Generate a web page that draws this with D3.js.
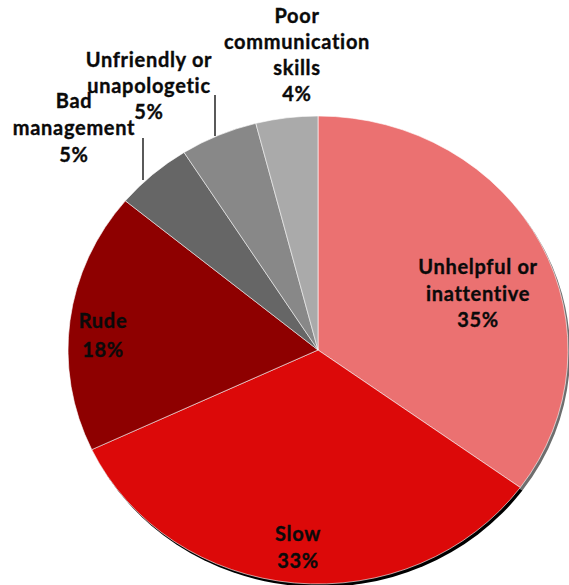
<!DOCTYPE html>
<html>
<head>
<meta charset="utf-8">
<script src="https://cdn.jsdelivr.net/npm/d3@7/dist/d3.min.js"></script>
<style>
  html, body { margin: 0; padding: 0; background: #fff; }
  svg { display: block; }
  text { font-family: Lato, "Open Sans", sans-serif; font-weight: 700; fill: #0a0a0a; }
</style>
</head>
<body>
<svg id="chart" width="569" height="585"></svg>
<script>
// Complaint categories, clockwise from 12 o'clock
const categories = [
  "Unhelpful or inattentive",
  "Slow",
  "Rude",
  "Bad management",
  "Unfriendly or unapologetic",
  "Poor communication skills"
];
const values = [35, 33, 18, 5, 5, 4];
const labelLines = [
  ["Unhelpful or", "inattentive"],
  ["Slow"],
  ["Rude"],
  ["Bad", "management"],
  ["Unfriendly or", "unapologetic"],
  ["Poor", "communication", "skills"]
];
const colors = ["#eb7171", "#dc0909", "#8e0000", "#666666", "#888888", "#aaaaaa"];
const shadowColors = ["#6e6e6e", "#000000", "#3a0000", "#333", "#444", "#555"];

// Geometry of the (slightly widened) pie
const cx = 318, cy = 350, ry = 234, rx = 250;

// Label placement: centre x, first baseline, line height
const labelPos = [
  { x: 478, y: 274, lh: 26.5 },
  { x: 298, y: 541, lh: 27 },
  { x: 103, y: 328, lh: 29 },
  { x: 74,  y: 108, lh: 27 },
  { x: 149, y: 67,  lh: 26 },
  { x: 297, y: 23,  lh: 26 }
];
// Leader lines for the two small outside-labelled slices
const leaders = [
  { i: 3, x: 143, y1: 138, y2: 180 },
  { i: 4, x: 215, y1: 95,  y2: 136 }
];

const svg = d3.select("#chart");
const pie = d3.pie().sort(null).value(d => d)(values);
const arc = d3.arc().innerRadius(0).outerRadius(ry);

const pieG = svg.append("g")
  .attr("transform", `translate(${cx},${cy}) scale(${rx / ry},1)`);

// Soft edge shadow toward the lower right
pieG.append("g")
  .attr("transform", "translate(2,3)")
  .selectAll("path")
  .data(pie)
  .join("path")
  .attr("d", arc)
  .attr("fill", (d, i) => shadowColors[i]);

pieG.append("g")
  .selectAll("path")
  .data(pie)
  .join("path")
  .attr("d", arc)
  .attr("fill", (d, i) => colors[i])
  .attr("stroke", "#ffffff")
  .attr("stroke-opacity", 0.6)
  .attr("stroke-width", 1)
  .attr("vector-effect", "non-scaling-stroke");

// Leader lines
svg.append("g")
  .selectAll("line")
  .data(leaders)
  .join("line")
  .attr("x1", d => d.x).attr("x2", d => d.x)
  .attr("y1", d => d.y1).attr("y2", d => d.y2)
  .attr("stroke", "#000").attr("stroke-width", 1.3);

// Category labels with percentage
const labels = svg.append("g")
  .selectAll("text")
  .data(pie)
  .join("text")
  .attr("text-anchor", "middle")
  .attr("font-size", 20)
  .attr("letter-spacing", 0.7)
  .attr("stroke", "#0a0a0a")
  .attr("stroke-width", 0.35);

labels.each(function (d, i) {
  const p = labelPos[i];
  const lines = labelLines[i].concat([d3.format(".0f")(d.data) + "%"]);
  d3.select(this).selectAll("tspan")
    .data(lines)
    .join("tspan")
    .attr("x", p.x)
    .attr("y", (t, k) => p.y + k * p.lh)
    .text(t => t);
});
</script>
</body>
</html>
